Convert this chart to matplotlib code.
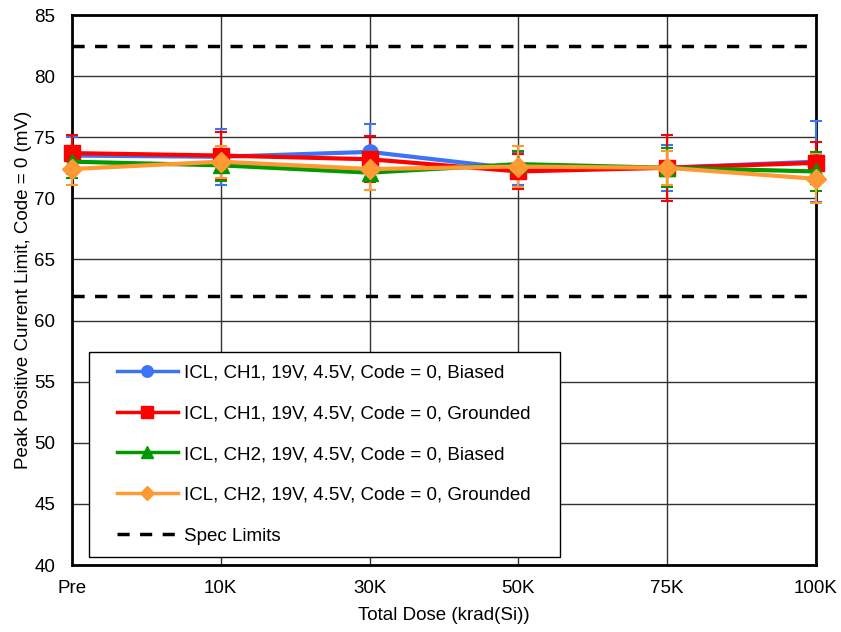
import matplotlib
matplotlib.use("Agg")
import matplotlib.pyplot as plt
from matplotlib.lines import Line2D
from matplotlib.patches import Rectangle

plt.rcParams['font.family'] = ['Liberation Sans', 'DejaVu Sans']

doses = ["Pre", "10K", "30K", "50K", "75K", "100K"]

ch1_biased = [73.5, 73.4, 73.8, 72.4, 72.5, 73.0]
ch1_biased_err = [1.5, 2.3, 2.3, 1.3, 1.9, 3.3]
ch1_grounded = [73.7, 73.5, 73.2, 72.2, 72.5, 72.9]
ch1_grounded_err = [1.5, 1.9, 1.9, 1.4, 2.7, 1.7]
ch2_biased = [73.0, 72.7, 72.1, 72.8, 72.5, 72.2]
ch2_biased_err = [1.3, 1.3, 1.4, 1.1, 1.6, 1.6]
ch2_grounded = [72.4, 73.0, 72.4, 72.6, 72.5, 71.6]
ch2_grounded_err = [1.3, 1.3, 1.7, 1.7, 1.4, 2.0]

spec_limits = [82.5, 62.0]

series = [
    ("ICL, CH1, 19V, 4.5V, Code = 0, Biased", ch1_biased, ch1_biased_err, "#3d73f5", "o", 11),
    ("ICL, CH1, 19V, 4.5V, Code = 0, Grounded", ch1_grounded, ch1_grounded_err, "#ff0000", "s", 11),
    ("ICL, CH2, 19V, 4.5V, Code = 0, Biased", ch2_biased, ch2_biased_err, "#009900", "^", 11),
    ("ICL, CH2, 19V, 4.5V, Code = 0, Grounded", ch2_grounded, ch2_grounded_err, "#ff9933", "D", 10),
]

W, H = 841, 632
fig = plt.figure(figsize=(W / 100, H / 100), dpi=100)
ax = fig.add_axes([72 / W, 1 - 565 / H, (816 - 72) / W, (565 - 15) / H])

x = list(range(len(doses)))
handles = []
for label, vals, err, color, marker, ms in series:
    line, caps, bars = ax.errorbar(x, vals, yerr=err, color=color, marker=marker, markersize=ms,
                                   linewidth=3, elinewidth=1.5, capsize=4, capthick=1.5, zorder=3)
    for art in [line] + list(caps) + list(bars):
        art.set_clip_on(False)
    handles.append(Line2D([], [], color=color, marker=marker, markersize=ms * 0.75,
                          linewidth=2.5, label=label))

for lim in spec_limits:
    ax.axhline(lim, color="black", linestyle=(0, (3.5, 3)), linewidth=2.5, zorder=2)
handles.append(Line2D([], [], color="black", linestyle=(0, (3.5, 3)), linewidth=2.5,
                      label="Spec Limits"))

ax.set_xlim(0, len(doses) - 1)
ax.set_ylim(40, 85)
ax.set_xticks(x)
ax.set_xticklabels(doses)
ax.set_yticks(range(40, 86, 5))
ax.tick_params(axis="both", labelsize=13.5, length=0)
ax.tick_params(axis="x", pad=11)
ax.tick_params(axis="y", pad=12)
ax.grid(True, color="#333333", linewidth=1.0)
ax.set_axisbelow(True)
for sp in ax.spines.values():
    sp.set_linewidth(2)

ax.set_xlabel("Total Dose (krad(Si))", fontsize=13.5, labelpad=7)
ax.set_ylabel("Peak Positive Current Limit, Code = 0 (mV)", fontsize=13.5, labelpad=2)

# legend frame drawn separately so the padding matches the original box
frame = Rectangle((89 / W, 1 - 557 / H), (560 - 89) / W, (557 - 352) / H,
                  transform=fig.transFigure, facecolor="white", edgecolor="black",
                  linewidth=1.0, zorder=5)
fig.patches.append(frame)

leg = fig.legend(handles=handles, loc="upper left", bbox_to_anchor=(117 / W, 1 - 364 / H),
                 bbox_transform=fig.transFigure, fontsize=13.5, frameon=False,
                 handlelength=3.25, labelspacing=1.27, borderpad=0, borderaxespad=0,
                 handletextpad=0.3)
leg.set_zorder(6)

fig.savefig("out.png", dpi=100)
